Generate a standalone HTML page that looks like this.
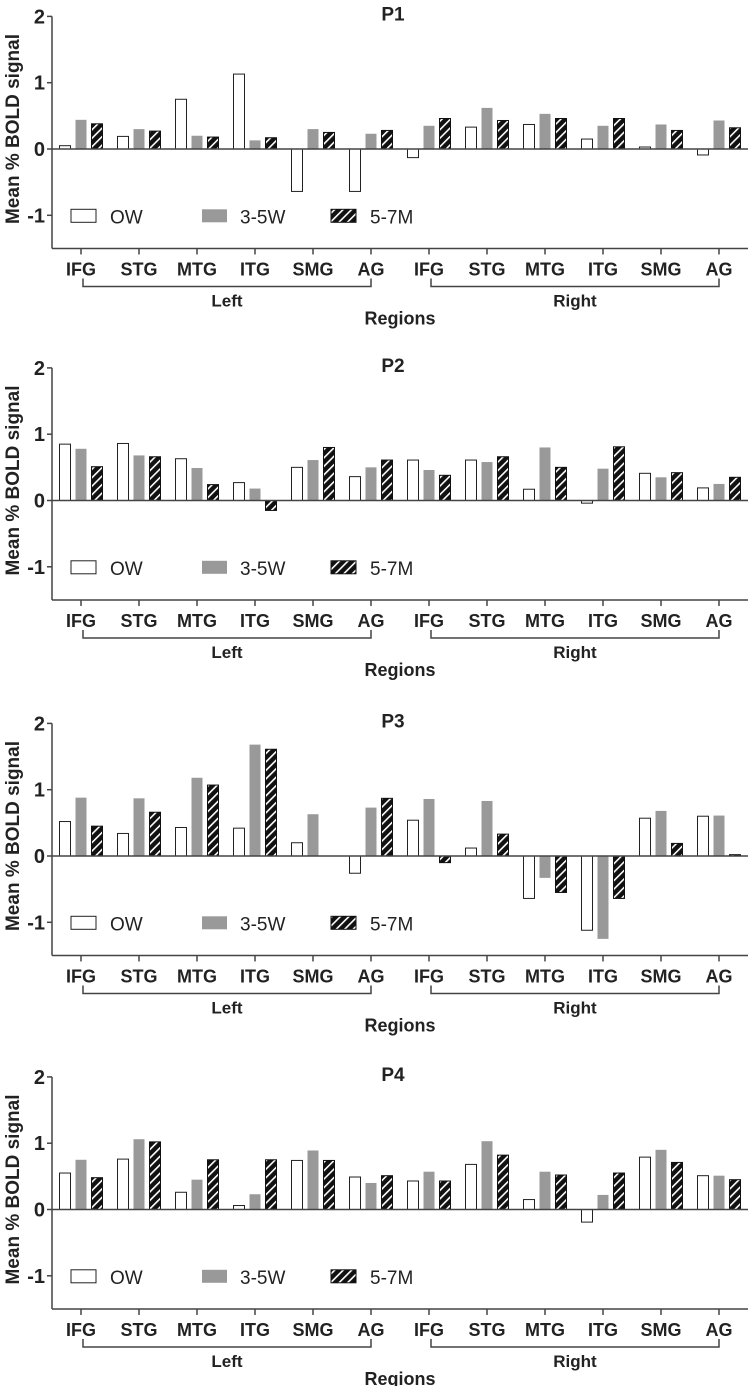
<!DOCTYPE html>
<html><head><meta charset="utf-8"><style>
html,body{margin:0;padding:0;background:#fff}
svg{display:block}
text{font-family:"Liberation Sans",Arial,sans-serif;fill:#222}
</style></head><body>
<svg id="chart" width="748" height="1386" viewBox="0 0 748 1386" xmlns="http://www.w3.org/2000/svg">
<defs>
<pattern id="hatch" patternUnits="userSpaceOnUse" width="6" height="6" patternTransform="rotate(45)">
<rect width="6" height="6" fill="#111"/>
<rect x="0" y="0" width="1.6" height="6" fill="#fff"/>
</pattern>
</defs>
</svg>
<script>
const panelTitles = ["P1","P2","P3","P4"];
const regions = ["IFG","STG","MTG","ITG","SMG","AG","IFG","STG","MTG","ITG","SMG","AG"];
const seriesNames = ["OW","3-5W","5-7M"];
const yTicks = [2,1,0,-1];
const owP1 = [0.05,0.19,0.75,1.13,-0.64,-0.64,-0.13,0.33,0.37,0.15,0.03,-0.09];
const w35P1 = [0.44,0.30,0.20,0.13,0.30,0.23,0.35,0.62,0.53,0.35,0.37,0.43];
const m57P1 = [0.38,0.27,0.18,0.17,0.25,0.28,0.46,0.43,0.46,0.46,0.28,0.32];
const owP2 = [0.85,0.86,0.63,0.27,0.50,0.36,0.61,0.61,0.17,-0.04,0.41,0.19];
const w35P2 = [0.78,0.68,0.49,0.18,0.61,0.50,0.46,0.58,0.80,0.48,0.35,0.25];
const m57P2 = [0.51,0.66,0.24,-0.15,0.80,0.61,0.38,0.66,0.50,0.81,0.42,0.35];
const owP3 = [0.52,0.34,0.43,0.42,0.20,-0.26,0.54,0.12,-0.64,-1.12,0.57,0.60];
const w35P3 = [0.88,0.87,1.18,1.68,0.63,0.73,0.86,0.83,-0.33,-1.25,0.68,0.61];
const m57P3 = [0.45,0.66,1.07,1.61,0.00,0.87,-0.10,0.33,-0.55,-0.64,0.19,0.02];
const owP4 = [0.55,0.76,0.26,0.06,0.74,0.49,0.43,0.68,0.15,-0.19,0.79,0.51];
const w35P4 = [0.75,1.06,0.45,0.23,0.89,0.40,0.57,1.03,0.57,0.22,0.90,0.51];
const m57P4 = [0.48,1.02,0.75,0.75,0.74,0.51,0.43,0.82,0.52,0.55,0.71,0.45];

const panels = [[owP1,w35P1,m57P1],[owP2,w35P2,m57P2],[owP3,w35P3,m57P3],[owP4,w35P4,m57P4]];
const zeros = [149,500.5,856,1209.5];
const UNIT = 66.3, AX = 52, X0 = 81, STEP = 58, BW = 11;
const fills = ["#fff","#999","url(#hatch)"];
const NS = "http://www.w3.org/2000/svg";
const svg = document.getElementById("chart");
function mk(tag, attrs, parent, txt){
  const e = document.createElementNS(NS, tag);
  for (const k in attrs) e.setAttribute(k, attrs[k]);
  if (txt !== undefined) e.textContent = txt;
  (parent||svg).appendChild(e); return e;
}
function xPos(i){ return X0 + STEP*i; }
const AXC = "#444", AXW = "1.5";

panels.forEach((series, p) => {
  const z = zeros[p];
  const y = v => z - v*UNIT;
  const g = mk("g", {}, svg);
  
  
  const t = mk("text", {x:393, y:y(2)+4, "text-anchor":"middle", "font-size":"19", "font-weight":"bold"}, g, panelTitles[p]);
  
  
  const yl = mk("text", {transform:`translate(19,${z-20}) rotate(-90)`, "text-anchor":"middle", "font-size":"19", "font-weight":"bold"}, g, "Mean % BOLD signal");
  
  
  series.forEach((vals, s) => {
    vals.forEach((v, i) => {
      if (v === 0) return;
      const cx = xPos(i) + (s-1)*16;
      const top = Math.min(y(v), z), h = Math.abs(y(v)-z);
      const r = mk("rect", {x:cx-BW/2, y:top, width:BW, height:h, fill:fills[s], stroke: s===0 ? "#222" : (s===2 ? "#111" : "none"), "stroke-width":"1"}, g);
      
      
    });
  });
  const bottom = y(-1.5);
  const ya = mk("line", {x1:AX, y1:y(2), x2:AX, y2:bottom, stroke:AXC, "stroke-width":AXW}, g);
  
  
  const za = mk("line", {x1:AX, y1:z, x2:748, y2:z, stroke:AXC, "stroke-width":AXW}, g);
  
  
  const xa = mk("line", {x1:AX, y1:bottom, x2:748, y2:bottom, stroke:AXC, "stroke-width":AXW}, g);
  
  
  yTicks.forEach(v => {
    mk("line", {x1:AX-5, y1:y(v), x2:AX, y2:y(v), stroke:AXC, "stroke-width":AXW}, g);
    const tl = mk("text", {x:AX-7, y:y(v)+7, "text-anchor":"end", "font-size":"20", "font-weight":"bold"}, g, String(v));
    
    
  });
  regions.forEach((r, i) => {
    mk("line", {x1:xPos(i), y1:bottom, x2:xPos(i), y2:bottom+6, stroke:AXC, "stroke-width":AXW}, g);
    const xl = mk("text", {x:xPos(i), y:bottom+27, "text-anchor":"middle", "font-size":"18", "font-weight":"bold"}, g, r);
    
    
  });
  const by = bottom + 38;
  [["Left",0,5],["Right",6,11]].forEach(([lab,a,b]) => {
    const x1 = xPos(a)+2, x2 = xPos(b);
    const br = mk("path", {d:`M${x1},${by-8} V${by} H${x2} V${by-8}`, fill:"none", stroke:AXC, "stroke-width":AXW}, g);
    
    
    const bl = mk("text", {x:(x1+x2)/2, y:by+20, "text-anchor":"middle", "font-size":"17", "font-weight":"bold"}, g, lab);
    
    
  });
  const rl = mk("text", {x:400, y:by+38, "text-anchor":"middle", "font-size":"18", "font-weight":"bold"}, g, "Regions");
  
  
  const ly = y(-1) - 6;
  [[71,110],[202,240],[331,370]].forEach(([bx,tx], s) => {
    const lr = mk("rect", {x:bx, y:ly, width:25, height:13, fill:fills[s], stroke: s===0 ? "#222" : (s===2 ? "#111" : "none"), "stroke-width":"1"}, g);
    
    
    const lt = mk("text", {x:tx, y:ly+14, "font-size":"19"}, g, seriesNames[s]);
    
    
  });
});
</script>
</body></html>
